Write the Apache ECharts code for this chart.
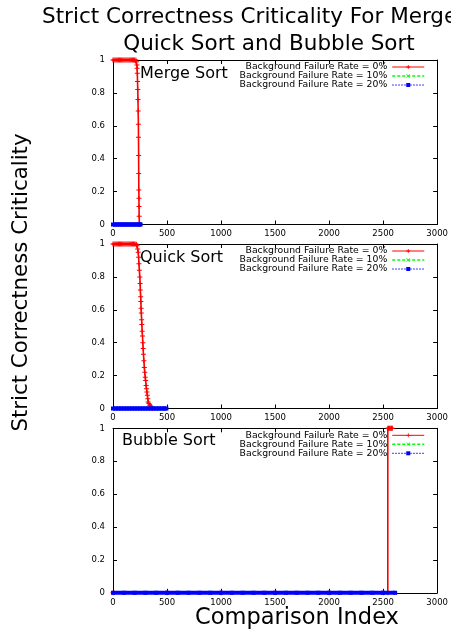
<!DOCTYPE html>
<html>
<head>
<meta charset="utf-8">
<script src="https://cdn.jsdelivr.net/npm/echarts@6/dist/echarts.min.js"></script>
<style>html,body{margin:0;padding:0;background:#fff}#c{width:451px;height:631px}</style>
</head>
<body>
<div id="c"></div>
<script>
// ---- data ----
var titleLine1 = 'Strict Correctness Criticality For Merge Sort,';
var titleLine2 = 'Quick Sort and Bubble Sort';
var yAxisName = 'Strict Correctness Criticality';
var xAxisName = 'Comparison Index';
var panelNames = ['Merge Sort', 'Quick Sort', 'Bubble Sort'];
var seriesNames = ['Background Failure Rate = 0%', 'Background Failure Rate = 10%', 'Background Failure Rate = 20%'];

// Merge Sort
var mergeX0 = [0, 10, 20, 30, 40, 50, 60, 70, 80, 90, 100, 110, 120, 130, 140, 150, 160, 170, 180, 190, 200, 212, 218, 221, 223, 225, 227, 229, 231, 233, 235, 236, 237, 238, 239, 240, 241, 242, 244, 248];
var mergeY0 = [1, 1, 1, 1, 1, 1, 1, 1, 1, 1, 1, 1, 1, 1, 1, 1, 1, 1, 1, 1, 1, 1, 0.99, 0.97, 0.95, 0.92, 0.87, 0.82, 0.76, 0.69, 0.61, 0.53, 0.42, 0.31, 0.21, 0.16, 0.11, 0.05, 0.01, 0];
var mergeX10 = [0, 20, 40, 60, 80, 100, 120, 140, 160, 180, 200, 220, 240, 255];
var mergeY10 = [0, 0, 0, 0, 0, 0, 0, 0, 0, 0, 0, 0, 0, 0];
var mergeX20 = [0, 20, 40, 60, 80, 100, 120, 140, 160, 180, 200, 220, 240, 255];
var mergeY20 = [0, 0, 0, 0, 0, 0, 0, 0, 0, 0, 0, 0, 0, 0];

// Quick Sort
var quickX0 = [0, 10, 20, 30, 40, 50, 60, 70, 80, 90, 100, 110, 120, 130, 140, 150, 160, 170, 180, 190, 200, 212, 218, 222, 228, 233, 237, 240, 244, 248, 251, 253, 256, 258, 260, 262, 265, 267, 270, 273, 276, 279, 282, 286, 290, 294, 298, 302, 306, 310, 314, 318, 322, 325, 332, 340, 348, 356, 365];
var quickY0 = [1, 1, 1, 1, 1, 1, 1, 1, 1, 1, 1, 1, 1, 1, 1, 1, 1, 1, 1, 1, 1, 1, 0.995, 0.99, 0.97, 0.95, 0.92, 0.88, 0.84, 0.80, 0.76, 0.72, 0.68, 0.65, 0.61, 0.58, 0.54, 0.51, 0.47, 0.44, 0.40, 0.365, 0.33, 0.29, 0.25, 0.22, 0.19, 0.17, 0.14, 0.12, 0.10, 0.08, 0.06, 0.04, 0.03, 0.02, 0.015, 0.01, 0];
var quickX10 = [0, 25, 50, 75, 100, 125, 150, 175, 200, 225, 250, 275, 300, 325, 350, 375, 400, 425, 450, 475, 494];
var quickY10 = [0, 0, 0, 0, 0, 0, 0, 0, 0, 0, 0, 0, 0, 0, 0, 0, 0, 0, 0, 0, 0];
var quickX20 = [0, 25, 50, 75, 100, 125, 150, 175, 200, 225, 250, 275, 300, 325, 350, 375, 400, 425, 450, 475, 494];
var quickY20 = [0, 0, 0, 0, 0, 0, 0, 0, 0, 0, 0, 0, 0, 0, 0, 0, 0, 0, 0, 0, 0];

// Bubble Sort
var bubbleX0 = [0, 500, 1000, 1500, 2000, 2500, 2543, 2543, 2550, 2557, 2564, 2571, 2578, 2585];
var bubbleY0 = [0, 0, 0, 0, 0, 0, 0, 1, 1, 1, 1, 1, 1, 1];
var bubbleX10 = [0, 100, 200, 300, 400, 500, 600, 700, 800, 900, 1000, 1100, 1200, 1300, 1400, 1500, 1600, 1700, 1800, 1900, 2000, 2100, 2200, 2300, 2400, 2500, 2611];
var bubbleY10 = [0, 0, 0, 0, 0, 0, 0, 0, 0, 0, 0, 0, 0, 0, 0, 0, 0, 0, 0, 0, 0, 0, 0, 0, 0, 0, 0];
var bubbleX20 = [0, 100, 200, 300, 400, 500, 600, 700, 800, 900, 1000, 1100, 1200, 1300, 1400, 1500, 1600, 1700, 1800, 1900, 2000, 2100, 2200, 2300, 2400, 2500, 2611];
var bubbleY20 = [0, 0, 0, 0, 0, 0, 0, 0, 0, 0, 0, 0, 0, 0, 0, 0, 0, 0, 0, 0, 0, 0, 0, 0, 0, 0, 0];

var xTickInterval = 500, xMin = 0, xMax = 3000;
var yTickInterval = 0.2, yMin = 0, yMax = 1;

// ---- build ----
function pairs(xs, ys) { return xs.map(function (x, i) { return [x, ys[i]]; }); }
var panels = [
  [pairs(mergeX0, mergeY0), pairs(mergeX10, mergeY10), pairs(mergeX20, mergeY20)],
  [pairs(quickX0, quickY0), pairs(quickX10, quickY10), pairs(quickX20, quickY20)],
  [pairs(bubbleX0, bubbleY0), pairs(bubbleX10, bubbleY10), pairs(bubbleX20, bubbleY20)]
];

var FONT = 'DejaVu Sans';
var tops = [60, 244, 428.3];
var gridH = 164.5;
var plus = 'path://M4,0H6V4H10V6H6V10H4V6H0V4H4Z';
var cross = 'path://M0,1L1,0L5,4L9,0L10,1L6,5L10,9L9,10L5,6L1,10L0,9L4,5Z';

var grids = [], xAxes = [], yAxes = [], series = [], legends = [], graphics = [];
var styles = [
  {color: '#ff0000', symbol: plus, size: 5, line: {width: 1.6, type: 'solid'}},
  {color: '#00ff00', symbol: cross, size: 4, line: {width: 1.5, type: 'dashed'}},
  {color: '#0000ff', symbol: 'rect', size: 4, line: {width: 4, type: 'solid'}}
];
var legendIconLine = [
  {width: 1, type: 'solid'},
  {width: 1.5, type: [3, 2]},
  {width: 1, type: [1.5, 1.5]}
];
function plainNum(v) { return String(v); }

tops.forEach(function (t, i) {
  grids.push({left: 113, width: 326, top: t, height: gridH});
  var axLine = {show: true, onZero: false, lineStyle: {color: '#000', width: 1}};
  var tick = {show: true, inside: true, length: 4, lineStyle: {color: '#000', width: 1}};
  xAxes.push({gridIndex: i, type: 'value', min: xMin, max: xMax, interval: xTickInterval, position: 'bottom',
    axisLine: axLine, axisTick: tick, splitLine: {show: false}, z: 1,
    axisLabel: {color: '#000', fontSize: 8.5, fontFamily: FONT, margin: 5, formatter: plainNum}});
  xAxes.push({gridIndex: i, type: 'value', min: xMin, max: xMax, interval: xTickInterval, position: 'top',
    axisLine: axLine, axisTick: tick, splitLine: {show: false}, axisLabel: {show: false}, z: 1});
  yAxes.push({gridIndex: i, type: 'value', min: yMin, max: yMax, interval: yTickInterval, position: 'left',
    axisLine: axLine, axisTick: tick, splitLine: {show: false}, z: 1,
    axisLabel: {color: '#000', fontSize: 8.5, fontFamily: FONT, margin: 8, formatter: plainNum}});
  yAxes.push({gridIndex: i, type: 'value', min: yMin, max: yMax, interval: yTickInterval, position: 'right',
    axisLine: axLine, axisTick: tick, splitLine: {show: false}, axisLabel: {show: false}, z: 1});

  panels[i].forEach(function (d, k) {
    var s = styles[k];
    series.push({
      name: seriesNames[k], type: 'line', xAxisIndex: 2 * i, yAxisIndex: 2 * i,
      data: d, symbol: s.symbol, symbolSize: s.size, showAllSymbol: true, animation: false,
      lineStyle: {color: s.color, width: s.line.width, type: s.line.type},
      itemStyle: {color: s.color}, z: 3 + k, clip: false
    });
  });

  legends.push({
    top: t + 2.5, right: 26, orient: 'vertical', align: 'right', padding: 0,
    itemWidth: 32, itemHeight: 5, itemGap: 0, selectedMode: false,
    textStyle: {color: '#000', fontSize: 9.3, fontFamily: FONT, lineHeight: 9, padding: [0, 0, 0, 0]},
    data: seriesNames.map(function (n, k) {
      return {name: n, lineStyle: legendIconLine[k], itemStyle: {color: styles[k].color}};
    })
  });

  graphics.push({type: 'text', left: i === 2 ? 122 : 140, top: t + (i === 2 ? 5 : 6),
    style: {text: panelNames[i], font: '16px "' + FONT + '"', fill: '#000'}});
});

graphics.push({type: 'text', x: 42, y: 17, style: {text: titleLine1, font: '21.5px "' + FONT + '"', fill: '#000', textAlign: 'left', textVerticalAlign: 'middle'}});
graphics.push({type: 'text', x: 269, y: 44, style: {text: titleLine2, font: '21.5px "' + FONT + '"', fill: '#000', textAlign: 'center', textVerticalAlign: 'middle'}});
graphics.push({type: 'text', x: 21, y: 282.5, rotation: Math.PI / 2, style: {text: yAxisName, font: '21.3px "' + FONT + '"', fill: '#000', textAlign: 'center', textVerticalAlign: 'middle'}});
graphics.push({type: 'text', x: 297, y: 618, style: {text: xAxisName, font: '22.5px "' + FONT + '"', fill: '#000', textAlign: 'center', textVerticalAlign: 'middle'}});

var chart = echarts.init(document.getElementById('c'), null, {renderer: 'canvas'});
chart.setOption({
  animation: false,
  backgroundColor: '#fff',
  grid: grids, xAxis: xAxes, yAxis: yAxes, series: series, legend: legends, graphic: graphics
});
</script>
</body>
</html>
